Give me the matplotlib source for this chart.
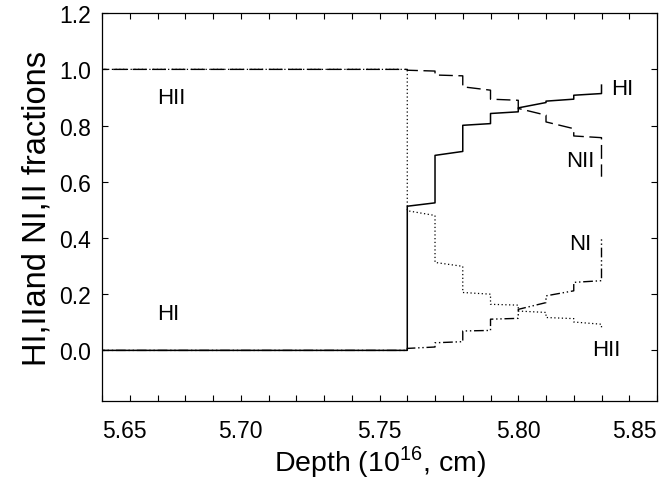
import matplotlib
matplotlib.use("Agg")
import matplotlib.pyplot as plt
from matplotlib.ticker import MultipleLocator

plt.rcParams["font.family"] = ["Liberation Sans", "DejaVu Sans"]
plt.rcParams["mathtext.fontset"] = "custom"
plt.rcParams["mathtext.rm"] = "Liberation Sans"

# cell edges in depth (10^16 cm)
depth_edges = [5.76, 5.77, 5.78, 5.79, 5.80, 5.81, 5.82, 5.83]
depth_start = 5.64

# value at the start / end of every cell, plus value before and after
hi_init, hi_final = 0.0, 0.944
hi_start = [0.513, 0.694, 0.801, 0.843, 0.863, 0.887, 0.908]
hi_end = [0.525, 0.708, 0.807, 0.849, 0.882, 0.894, 0.914]

hii_init, hii_final = 1.0, 0.079
hii_start = [0.497, 0.313, 0.206, 0.164, 0.140, 0.117, 0.101]
hii_end = [0.480, 0.299, 0.200, 0.161, 0.135, 0.113, 0.093]

nii_init, nii_final = 1.0, 0.618
nii_start = [0.997, 0.980, 0.938, 0.894, 0.861, 0.813, 0.763]
nii_end = [0.994, 0.977, 0.926, 0.890, 0.837, 0.789, 0.757]

ni_init, ni_final = 0.0, 0.396
ni_start = [0.007, 0.027, 0.069, 0.111, 0.146, 0.194, 0.242]
ni_end = [0.012, 0.031, 0.071, 0.114, 0.170, 0.212, 0.248]


def build_path(init, starts, ends, final):
    xs = [depth_start, depth_edges[0]]
    ys = [init, init]
    for i in range(len(starts)):
        xs += [depth_edges[i], depth_edges[i + 1]]
        ys += [starts[i], ends[i]]
    xs.append(depth_edges[-1])
    ys.append(final)
    return xs, ys


fig = plt.figure(figsize=(6.67, 4.89), dpi=100)
ax = fig.add_axes([0.153, 0.178, 0.832, 0.793])

x, y = build_path(hi_init, hi_start, hi_end, hi_final)
ax.plot(x, y, color="black", lw=1.1, ls="-")
x, y = build_path(hii_init, hii_start, hii_end, hii_final)
ax.plot(x, y, color="black", lw=0.9, ls=(0, (1, 2)))
x, y = build_path(nii_init, nii_start, nii_end, nii_final)
ax.plot(x, y, color="black", lw=1.0, ls=(0, (10, 4)))
x, y = build_path(ni_init, ni_start, ni_end, ni_final)
ax.plot(x, y, color="black", lw=1.0, ls=(0, (7, 2, 1, 2, 1, 2)))

ax.set_xlim(5.65, 5.85)
ax.set_ylim(-0.18, 1.2)

ax.xaxis.set_major_locator(MultipleLocator(0.05))
ax.xaxis.set_minor_locator(MultipleLocator(0.01))
ax.yaxis.set_major_locator(MultipleLocator(0.2))
ax.tick_params(which="both", direction="in", top=True, right=True,
               length=4, width=0.8, labelsize=16.5)
ax.tick_params(axis="x", pad=13)
ax.tick_params(axis="y", pad=8)
ax.set_xticks([5.65, 5.70, 5.75, 5.80, 5.85])
ax.set_xticklabels(["5.65", "5.70", "5.75", "5.80", "5.85"])
xl = ax.get_xticklabels()
xl[0].set_ha("left")
xl[-1].set_ha("right")
ax.set_yticklabels([f"{v:.1f}" for v in ax.get_yticks()])

for s in ax.spines.values():
    s.set_linewidth(0.9)

ax.set_xlabel(r"Depth (10$^{16}$, cm)", fontsize=20.5, labelpad=1)
ax.set_ylabel("HI,IIand NI,II fractions", fontsize=23.5, labelpad=5)

ax.text(5.670, 0.90, "HII", fontsize=16, va="center")
ax.text(5.670, 0.13, "HI", fontsize=16, va="center")
ax.text(5.8336, 0.932, "HI", fontsize=16, va="center")
ax.text(5.8172, 0.675, "NII", fontsize=16, va="center")
ax.text(5.8184, 0.379, "NI", fontsize=16, va="center")
ax.text(5.8265, 0.004, "HII", fontsize=16, va="center")

fig.savefig("out.png", dpi=100)
